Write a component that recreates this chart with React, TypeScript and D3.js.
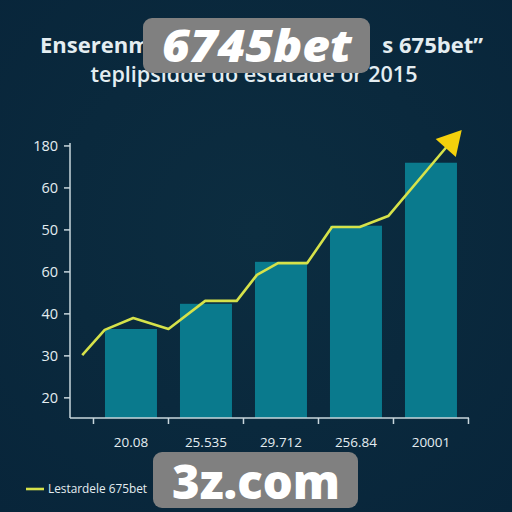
import React from "react";
import * as d3 from "d3";

const categories = ["20.08", "25.535", "29.712", "256.84", "20001"];
const barValues = [36.4, 42.4, 52.4, 61.0, 76.0];
const yTickValues = [20, 30, 40, 50, 60, 70, 80];
const yTickLabels = ["20", "30", "40", "60", "50", "60", "180"];
const xTickValues = [-0.5, 0.5, 1.5, 2.5, 3.5, 4.5];
const lineX = [-0.65, -0.35, 0.03, 0.5, 0.99, 1.41, 1.68, 1.96, 2.35, 2.68, 3.05, 3.43, 4.21];
const lineY = [30.2, 36.2, 39.0, 36.4, 43.1, 43.1, 49.3, 52.1, 52.1, 60.7, 60.7, 63.3, 79.8];
const arrowTip = { x: 4.41, y: 83.8 };
const titleLine1Start = "Enserenmiento de ventas";
const titleLine1End = "s 675bet\u201d";
const titleLine2 = "teplipsidde do estatade or 2015";
const legendLabel = "Lestardele 675bet";
const watermark1 = "6745bet";
const watermark2 = "3z.com";

export default function App() {
  const x = d3.scaleLinear().domain([-0.813, 4.507]).range([70, 469]);
  const y = d3.scaleLinear().domain([15.2, 80.7]).range([418, 143]);
  const bw = 52;
  const pts: [number, number][] = lineX.map((v, i) => [x(v), y(lineY[i])]);
  const line = d3.line<[number, number]>().x((d) => d[0]).y((d) => d[1]);
  const last = pts[pts.length - 1];
  const tx = x(arrowTip.x), ty = y(arrowTip.y);
  const dx = tx - last[0], dy = ty - last[1];
  const L = Math.hypot(dx, dy);
  const ux = dx / L, uy = dy / L;
  const headLen = 24, half = 13.5;
  const bxm = tx - ux * headLen, bym = ty - uy * headLen;
  const head = [
    [tx, ty],
    [bxm - uy * half, bym + ux * half],
    [bxm + uy * half, bym - ux * half],
  ].map((p) => p.join(",")).join(" ");
  const textCol = "#e4edf1";
  const axisCol = "#c9d7dd";
  const font = "'Open Sans', 'Noto Sans', sans-serif";
  return (
    <svg width={512} height={512} style={{ position: "absolute", left: 0, top: 0 }} fontFamily={font}>
      <defs>
        <radialGradient id="bg" cx="50%" cy="45%" r="75%">
          <stop offset="0%" stopColor="#0c2d40" />
          <stop offset="100%" stopColor="#08253a" />
        </radialGradient>
      </defs>
      <rect width={512} height={512} fill="url(#bg)" />
      <text y={53} fontSize={22} fontWeight={700} fill={textCol}>
        <tspan x={40} textAnchor="start">{titleLine1Start}</tspan>
        <tspan x={483} textAnchor="end">{titleLine1End}</tspan>
      </text>
      <text x={254} y={82} textAnchor="middle" fontSize={21} fontWeight={600} fill={textCol}
        textLength={327} lengthAdjust="spacingAndGlyphs">{titleLine2}</text>
      {barValues.map((v, i) => (
        <rect key={i} x={x(i) - bw / 2} y={y(v)} width={bw} height={y(15.2) - y(v)} fill="#0a7a8d" />
      ))}
      <line x1={70} x2={70} y1={y(80.7)} y2={y(15.2)} stroke={axisCol} strokeWidth={1.5} />
      <line x1={70} x2={x(4.507)} y1={y(15.2)} y2={y(15.2)} stroke={axisCol} strokeWidth={1.5} />
      {yTickValues.map((v, i) => (
        <g key={v}>
          <line x1={64} x2={70} y1={y(v)} y2={y(v)} stroke={axisCol} strokeWidth={1.5} />
          <text x={58} y={y(v) + 5} textAnchor="end" fontSize={14.5} fill={textCol}>{yTickLabels[i]}</text>
        </g>
      ))}
      {xTickValues.map((v) => (
        <line key={v} x1={x(v)} x2={x(v)} y1={418} y2={424} stroke={axisCol} strokeWidth={1.5} />
      ))}
      {categories.map((c, i) => (
        <text key={c} x={x(i)} y={447} textAnchor="middle" fontSize={13.5} fill={textCol}>{c}</text>
      ))}
      <path d={line(pts) || ""} fill="none" stroke="#d6e24a" strokeWidth={2.6} strokeLinejoin="round" />
      <polygon points={head} fill="#f4d10c" />
      <line x1={26} x2={44} y1={489} y2={489} stroke="#d6e24a" strokeWidth={2.6} />
      <text x={48} y={493} fontSize={12.5} fill={textCol} textLength={99} lengthAdjust="spacingAndGlyphs">{legendLabel}</text>
      <rect x={143} y={18} width={227} height={55} rx={9} fill="#808080" />
      <text x={257} y={62} textAnchor="middle" fontSize={44} fontWeight={800} fontStyle="italic" fill="#ffffff"
        fontFamily="'Open Sans', sans-serif" textLength={190} lengthAdjust="spacingAndGlyphs">{watermark1}</text>
      <rect x={153} y={452} width={205} height={56} rx={9} fill="#808080" />
      <text x={256} y={499} textAnchor="middle" fontSize={47} fontWeight={800} fill="#ffffff"
        fontFamily="'Open Sans', sans-serif" textLength={168} lengthAdjust="spacingAndGlyphs">{watermark2}</text>
    </svg>
  );
}
